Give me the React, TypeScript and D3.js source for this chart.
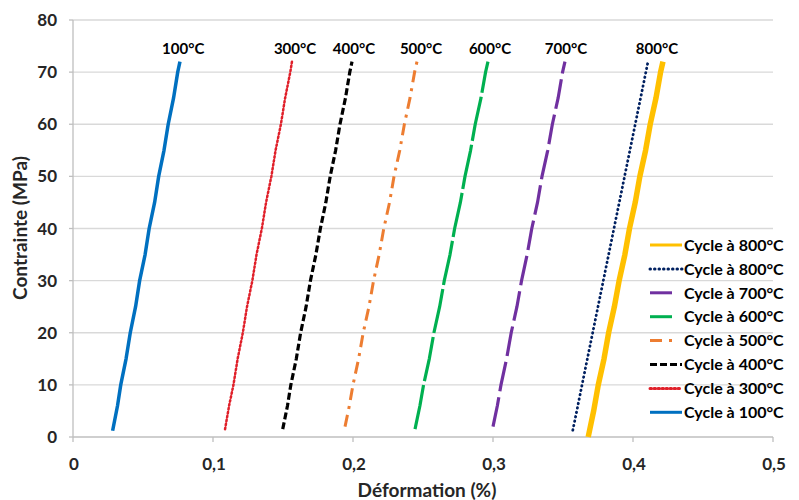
import React from "react";
import * as d3 from "d3";

const xTicks = [0, 0.1, 0.2, 0.3, 0.4, 0.5];
const yTicks = [0, 10, 20, 30, 40, 50, 60, 70, 80];

const s100: [number, number][] = [
  [0.0283, 1.2], [0.0318, 6], [0.0341, 10], [0.0379, 15], [0.0409, 20], [0.0447, 25], [0.0476, 30],
  [0.0515, 35], [0.0544, 40], [0.0583, 45], [0.0612, 50], [0.065, 55], [0.068, 60], [0.0718, 65],
  [0.0748, 70], [0.0764, 72],
];
const s300: [number, number][] = [
  [0.1086, 1.5], [0.1115, 6], [0.1146, 10], [0.1176, 15], [0.1213, 20], [0.1243, 25], [0.1281, 30],
  [0.1311, 35], [0.1349, 40], [0.1379, 45], [0.1417, 50], [0.1447, 55], [0.1485, 60], [0.1515, 65],
  [0.1552, 70], [0.1564, 72],
];
const s400: [number, number][] = [
  [0.1498, 1.5], [0.1532, 6], [0.1556, 10], [0.1595, 15], [0.1626, 20], [0.1665, 25], [0.1696, 30],
  [0.1735, 35], [0.1767, 40], [0.1806, 45], [0.1837, 50], [0.1876, 55], [0.1907, 60], [0.1946, 65],
  [0.1977, 70], [0.1993, 72],
];
const s500: [number, number][] = [
  [0.1943, 2], [0.1974, 6], [0.2, 10], [0.204, 15], [0.2073, 20], [0.2114, 25], [0.2147, 30],
  [0.2187, 35], [0.222, 40], [0.2261, 45], [0.2293, 50], [0.2334, 55], [0.2367, 60], [0.2407, 65],
  [0.244, 70], [0.2457, 72],
];
const s600: [number, number][] = [
  [0.2443, 1.5], [0.2478, 6], [0.2504, 10], [0.2545, 15], [0.2578, 20], [0.2619, 25], [0.2652, 30],
  [0.2693, 35], [0.2726, 40], [0.2767, 45], [0.28, 50], [0.284, 55], [0.2873, 60], [0.2914, 65],
  [0.2947, 70], [0.2964, 72],
];
const s700: [number, number][] = [
  [0.3, 2], [0.3031, 6], [0.3057, 10], [0.3097, 15], [0.313, 20], [0.3171, 25], [0.3204, 30],
  [0.3244, 35], [0.3277, 40], [0.3318, 45], [0.335, 50], [0.3391, 55], [0.3424, 60], [0.3465, 65],
  [0.3497, 70], [0.3514, 72],
];
const s800b: [number, number][] = [
  [0.357, 1.3], [0.3606, 6], [0.3636, 10], [0.3674, 15], [0.3712, 20], [0.375, 25], [0.3788, 30],
  [0.3826, 35], [0.3864, 40], [0.3902, 45], [0.394, 50], [0.3978, 55], [0.4016, 60], [0.4054, 65],
  [0.4092, 70], [0.4107, 72],
];
const s800a: [number, number][] = [
  [0.368, 0], [0.3719, 5], [0.3752, 10], [0.3793, 15], [0.3826, 20], [0.3867, 25], [0.3901, 30],
  [0.3942, 35], [0.3975, 40], [0.4016, 45], [0.4049, 50], [0.409, 55], [0.4123, 60], [0.4164, 65],
  [0.4197, 70], [0.4214, 72],
];

const seriesNames = [
  "Cycle à 800°C", "Cycle à 800°C", "Cycle à 700°C", "Cycle à 600°C",
  "Cycle à 500°C", "Cycle à 400°C", "Cycle à 300°C", "Cycle à 100°C",
];
const seriesData = [s800a, s800b, s700, s600, s500, s400, s300, s100];
const seriesColors = ["#FFC000", "#002060", "#7030A0", "#00B050", "#ED7D31", "#000000", "#E0202A", "#0070C0"];
const seriesWidths = [5.5, 2.8, 3.2, 3.2, 3, 3.2, 2.5, 3.5];
const seriesDash = ["", "0.5 4", "30 6", "45 4", "12 6 3 6", "7 3", "1.5 2.5", ""];
const legendDash = ["", "0.5 4", "", "", "12 7 3 20", "7 3", "1.5 2.5", ""];
const legendLen = [32, 32, 22, 22, 32, 32, 32, 32];
const seriesCaps = ["butt", "round", "butt", "butt", "butt", "butt", "round", "butt"];

const tempLabels = ["100°C", "300°C", "400°C", "500°C", "600°C", "700°C", "800°C"];
const tempLabelX = [0.0787, 0.1586, 0.2007, 0.2486, 0.2979, 0.3521, 0.4171];
const tempLabelY = 73.5;

const FONT = "Lato, 'Open Sans', sans-serif";

export default function App() {
  const W = 799, H = 500;
  const x = d3.scaleLinear().domain([0, 0.5]).range([73, 773]);
  const y = d3.scaleLinear().domain([0, 80]).range([437, 20]);
  const line = d3.line<[number, number]>().x((d) => x(d[0])).y((d) => y(d[1])).curve(d3.curveLinear);
  const drawOrder = [7, 6, 5, 4, 3, 2, 1, 0];
  return (
    <svg width={W} height={H} style={{ display: "block", position: "absolute", left: 0, top: 0 }}>
      <rect width={W} height={H} fill="#fff" />
      {yTicks.slice(1).map((t) => (
        <line key={"g" + t} x1={x(0)} x2={x(0.5)} y1={y(t)} y2={y(t)} stroke="#D9D9D9" strokeWidth={1.3} />
      ))}
      {yTicks.map((t) => (
        <line key={"yt" + t} x1={x(0) - 4} x2={x(0)} y1={y(t)} y2={y(t)} stroke="#BFBFBF" strokeWidth={1.3} />
      ))}
      <line x1={x(0)} x2={x(0)} y1={y(0)} y2={y(80)} stroke="#BFBFBF" strokeWidth={1.3} />
      <line x1={x(0)} x2={x(0.5)} y1={y(0)} y2={y(0)} stroke="#BFBFBF" strokeWidth={1.3} />
      {xTicks.map((t) => (
        <line key={"xt" + t} x1={x(t)} x2={x(t)} y1={y(0)} y2={y(0) + 5} stroke="#BFBFBF" strokeWidth={1.3} />
      ))}
      {yTicks.map((t) => (
        <text key={"yl" + t} x={57} y={y(t)} dy="0.36em" textAnchor="end" fontFamily={FONT} fontWeight={700} fontSize={17} fill="#262626">
          {t}
        </text>
      ))}
      {xTicks.map((t) => (
        <text key={"xl" + t} x={x(t) + 1} y={470} textAnchor="middle" fontFamily={FONT} fontWeight={700} fontSize={17} fill="#262626">
          {String(t).replace(".", ",")}
        </text>
      ))}
      <text x={427} y={497} textAnchor="middle" fontFamily={FONT} fontWeight={700} fontSize={19} fill="#262626">
        Déformation (%)
      </text>
      <text transform={`translate(27,228) rotate(-90)`} textAnchor="middle" fontFamily={FONT} fontWeight={700} fontSize={19} fill="#262626">
        Contrainte (MPa)
      </text>
      {drawOrder.map((i) => (
        <path
          key={"s" + i}
          d={line(seriesData[i]) || ""}
          fill="none"
          stroke={seriesColors[i]}
          strokeWidth={seriesWidths[i]}
          strokeDasharray={seriesDash[i] || undefined}
          strokeLinecap={seriesCaps[i] as any}
          strokeLinejoin="round"
        />
      ))}
      {tempLabels.map((l, i) => (
        <text key={"tl" + i} x={x(tempLabelX[i])} y={y(tempLabelY)} textAnchor="middle" fontFamily={FONT} fontWeight={700} fontSize={15} fill="#000">
          {l}
        </text>
      ))}
      {seriesNames.map((n, i) => {
        const yy = 245 + i * 23.9;
        return (
          <g key={"lg" + i}>
            <line
              x1={650}
              x2={650 + legendLen[i]}
              y1={yy}
              y2={yy}
              stroke={seriesColors[i]}
              strokeWidth={3}
              strokeDasharray={legendDash[i] || undefined}
              strokeLinecap={seriesCaps[i] as any}
            />
            <text x={684} y={yy} dy="0.36em" fontFamily={FONT} fontWeight={700} fontSize={16} fill="#000">
              {n}
            </text>
          </g>
        );
      })}
    </svg>
  );
}
